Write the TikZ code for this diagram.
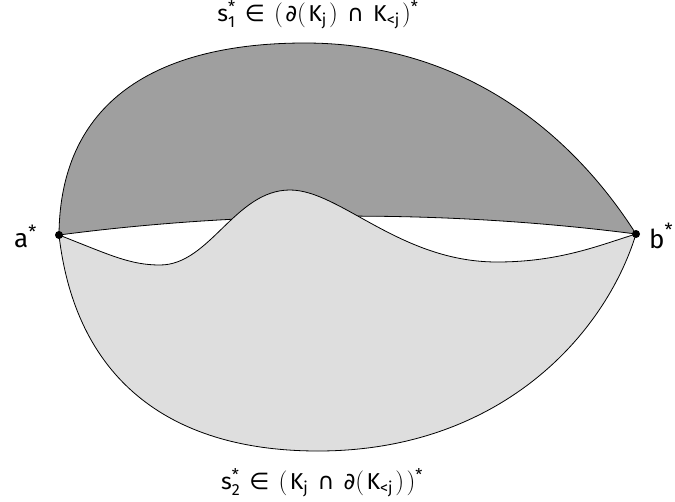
\documentclass[tikz,border=0pt]{standalone}
\usepackage{amsmath}
\usepackage{fontspec}
\setmainfont{Fira Sans}
\newfontfamily\symf{DejaVu Sans}
\newcommand{\tx}[1]{\text{#1}}
\newcommand{\sy}[1]{\text{\symf #1}}
\newcommand{\gap}{\hspace{0.4em}}
\newcommand{\sgap}{\hspace{0.1em}}
\begin{document}
\begin{tikzpicture}[x=1pt,y=-1pt,
  pt/.style={circle,fill=black,inner sep=0pt,minimum size=8pt},
  lbl/.style={font=\fontsize{23}{27}\selectfont,inner sep=0pt},
  ptlbl/.style={font=\fontsize{26}{30}\selectfont,inner sep=0pt},
  darkreg/.style={fill={rgb,255:red,159;green,159;blue,159},draw=black,line width=0.8pt},
  lightreg/.style={fill={rgb,255:red,222;green,222;blue,222},draw=black,line width=0.8pt}]
\useasboundingbox (0,0) rectangle (675,501);
\coordinate (a) at (59,235);
\coordinate (b) at (636,234);
\coordinate (top) at (305,43);
\coordinate (bot) at (318,451);
\coordinate (dipL) at (160,265);
\coordinate (peak) at (290,190);
\coordinate (dipR) at (497,262);
% dark region
\path[darkreg] (a) .. controls (60,95) and (165,43) .. (top)
  .. controls (460,43) and (570,130) .. (b)
  .. controls (450,210) and (250,210) .. (a) -- cycle;
% light region
\path[lightreg] (a) .. controls (75,375) and (165,451) .. (bot)
  .. controls (500,451) and (605,335) .. (b)
  .. controls (600,245) and (560,262) .. (dipR)
  .. controls (400,262) and (340,190) .. (peak)
  .. controls (235,190) and (210,265) .. (dipL)
  .. controls (130,265) and (110,255) .. (a) -- cycle;
\node[pt] (pa) at (a) {};
\node[pt] (pb) at (b) {};
\node[ptlbl,anchor=east] (la) at (37,236) {$\tx{a}^{\tx{*}}$};
\node[ptlbl,anchor=west] (lb) at (649,236) {$\tx{b}^{\tx{*}}$};
\node[lbl] (s1) at (318,15) {$\tx{s}^{\tx{*}}_{\tx{1}}\gap\sy{∈}\gap(\sgap\sy{∂}(\sgap\tx{K}_{\tx{j}}\sgap)\gap\sy{∩}\gap\tx{K}_{\tx{<j}}\sgap)^{\tx{*}}$};
\node[lbl] (s2) at (322,483) {$\tx{s}^{\tx{*}}_{\tx{2}}\gap\sy{∈}\gap(\sgap\tx{K}_{\tx{j}}\gap\sy{∩}\gap\sy{∂}(\sgap\tx{K}_{\tx{<j}}\sgap)\sgap)^{\tx{*}}$};
\end{tikzpicture}
\end{document}
